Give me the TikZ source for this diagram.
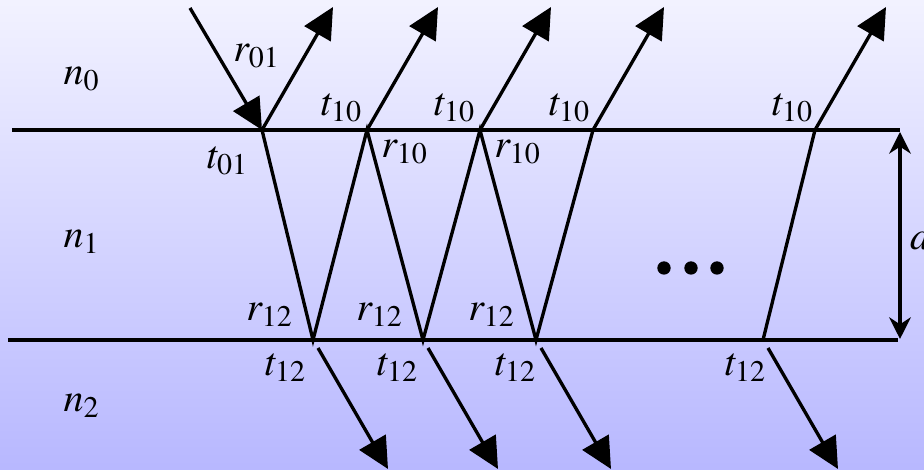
\documentclass[tikz,border=0pt]{standalone}
\usepackage{mathptmx}
\usepackage{tikz}
\usetikzlibrary{arrows.meta, positioning, calc}

\begin{document}
\begin{tikzpicture}[x=0.3pt, y=-0.3pt, font=\fontsize{12}{14}\selectfont,
    ray/.style={line width=1pt},
    beam/.style={ray, -{Triangle[length=9.3pt, width=9pt]}},
    lbl/.style={inner sep=0pt}]
  \shade[top color=blue!5!white, bottom color=blue!28!white]
    (0,0) rectangle (924,470);
  \useasboundingbox (0,0) rectangle (924,470);
  % interfaces
  \coordinate (topL) at (12,130);
  \coordinate (topR) at (900,130);
  \coordinate (botL) at (8,340);
  \coordinate (botR) at (898,340);
  \draw[ray] (topL) -- (topR);
  \draw[ray] (botL) -- (botR);
  % hit points
  \foreach \x [count=\i] in {262,367,480,593,815}
    \coordinate (T\i) at (\x,130);
  \foreach \x [count=\i] in {313,423,536,763}
    \coordinate (B\i) at (\x,340);
  % incoming and zigzag
  \coordinate (src) at (190,8);
  \draw[beam] (src) -- (T1);
  \draw[ray] (T1) -- (B1) -- (T2) -- (B2) -- (T3) -- (B3) -- (T4);
  \draw[ray] (B4) -- (T5);
  \foreach \i in {1,...,5}
    \draw[beam] (T\i) -- ++(71,-123);
  \foreach \i in {1,...,4}
    \draw[beam] ($(B\i)+(5,8)$) -- ++(70,121);
  % thickness
  \draw[ray, {Stealth[length=6.5pt, width=6.5pt]}-{Stealth[length=6.5pt, width=6.5pt]}]
    (900,132) -- (900,339) node[lbl, midway, right=2.5pt] (d) {$d$};
  \foreach \x in {664,691,717}
    \fill (\x,268) circle[radius=2pt];
  % labels
  \node[lbl] (n0) at (82,79) {$n_0$};
  \node[lbl] (n1) at (82,242) {$n_1$};
  \node[lbl] (n2) at (82,406) {$n_2$};
  \node[lbl] (r01) at (257,56) {$r_{01}$};
  \node[lbl] (t01) at (228,161) {$t_{01}$};
  \foreach \x [count=\i] in {342,455,570,793}
    \node[lbl] (t10\i) at (\x,108) {$t_{10}$};
  \foreach \x [count=\i] in {405,518}
    \node[lbl] (r10\i) at (\x,152) {$r_{10}$};
  \foreach \x [count=\i] in {270,380,492}
    \node[lbl] (r12\i) at (\x,315) {$r_{12}$};
  \foreach \x [count=\i] in {286,398,516,746}
    \node[lbl] (t12\i) at (\x,368) {$t_{12}$};
\end{tikzpicture}
\end{document}
